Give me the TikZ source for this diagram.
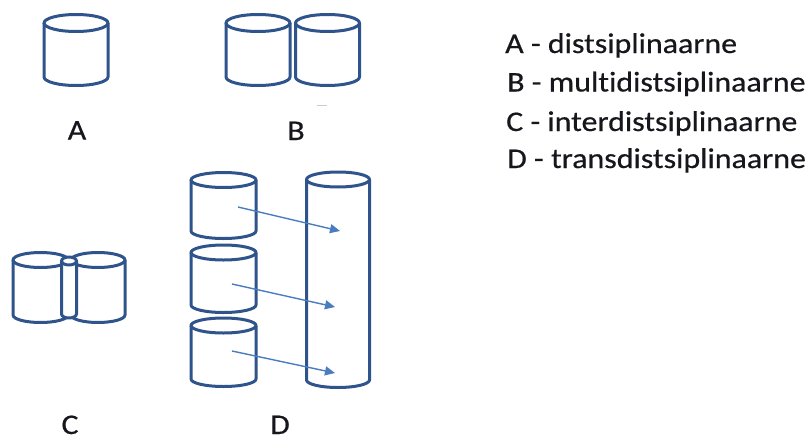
\documentclass[tikz,border=0pt]{standalone}
\usepackage{fontspec}
\setmainfont{Carlito}
\newfontfamily\labelfont[FakeStretch=1.12,FakeBold=0.5,Ligatures=NoCommon]{Carlito}
\usetikzlibrary{arrows.meta}

\definecolor{cylblue}{RGB}{47,84,140}
\definecolor{arrowblue}{RGB}{74,124,192}
\definecolor{inkdark}{RGB}{22,22,28}

% cylinder: name, centre x, top y, bottom y, x radius, y radius
\newcommand\drawcylinder[6]{%
  \fill[white] (#2-#5,#3) -- (#2-#5,#4)
    arc[start angle=180,end angle=0,x radius=#5,y radius=#6]
    -- (#2+#5,#3)
    arc[start angle=0,end angle=-180,x radius=#5,y radius=#6] -- cycle;
  \draw[cylline] (#2-#5,#3) -- (#2-#5,#4)
    arc[start angle=180,end angle=0,x radius=#5,y radius=#6]
    -- (#2+#5,#3);
  \draw[cylline] (#2,#3) ellipse[x radius=#5,y radius=#6];
  \coordinate (#1) at (#2,{(#3+#4)/2});
}

\begin{document}
\begin{tikzpicture}[x=1pt,y=-1pt,
  cylline/.style={draw=cylblue,line width=3pt,line join=round},
  flow/.style={draw=arrowblue,line width=1.4pt,-{Triangle[length=10pt,width=9pt]}},
  caption/.style={font=\labelfont\fontsize{28.5}{32}\selectfont,text=inkdark,inner sep=0pt,anchor=base},
  legend/.style={font=\labelfont\fontsize{28.5}{32}\selectfont,text=inkdark,inner sep=0pt,anchor=base west}]
\useasboundingbox (0,0) rectangle (811,439);

% A: one discipline
\drawcylinder{cA}{76}{23}{77}{32}{8.5}
\node[caption] (labA) at (77,139.5) {A};

% B: two disciplines side by side
\drawcylinder{cB1}{258}{23}{77}{32}{8.5}
\drawcylinder{cB2}{327.5}{23}{77}{32}{8.5}
\node[caption] (labB) at (296,140) {B};
\draw[gray!40,line width=0.6pt] (317,105) -- (327,105);

% C: two disciplines joined by a shared core
\drawcylinder{cC1}{40.5}{260}{315}{27.5}{7.5}
\drawcylinder{cC2}{98}{260}{315}{27}{7.5}
\drawcylinder{cC3}{69}{261}{314}{7.5}{4}
\node[caption] (labC) at (70,434) {C};

% D: three disciplines feeding one tall column
\drawcylinder{cD1}{223.5}{180}{231}{32.5}{7.5}
\drawcylinder{cD2}{223.5}{252.5}{305}{32.5}{7.5}
\drawcylinder{cD3}{223.5}{325.5}{379}{32.5}{7.5}
\drawcylinder{cT}{338}{179.5}{380}{31.5}{7.5}
\node[caption] (labD) at (280,434) {D};

\coordinate (s1) at (238,207);
\coordinate (e1) at (340,231);
\coordinate (s2) at (232,284);
\coordinate (e2) at (335,307);
\coordinate (s3) at (232,351);
\coordinate (e3) at (335,373);
\draw[flow] (s1) -- (e1);
\draw[flow] (s2) -- (e2);
\draw[flow] (s3) -- (e3);

% legend
\node[legend] (legA) at (505,53) {A - distsiplinaarne};
\node[legend] (legB) at (507,91.5) {B - multidistsiplinaarne};
\node[legend] (legC) at (506,131) {C - interdistsiplinaarne};
\node[legend] (legD) at (507,168) {D - transdistsiplinaarne};
\end{tikzpicture}
\end{document}
